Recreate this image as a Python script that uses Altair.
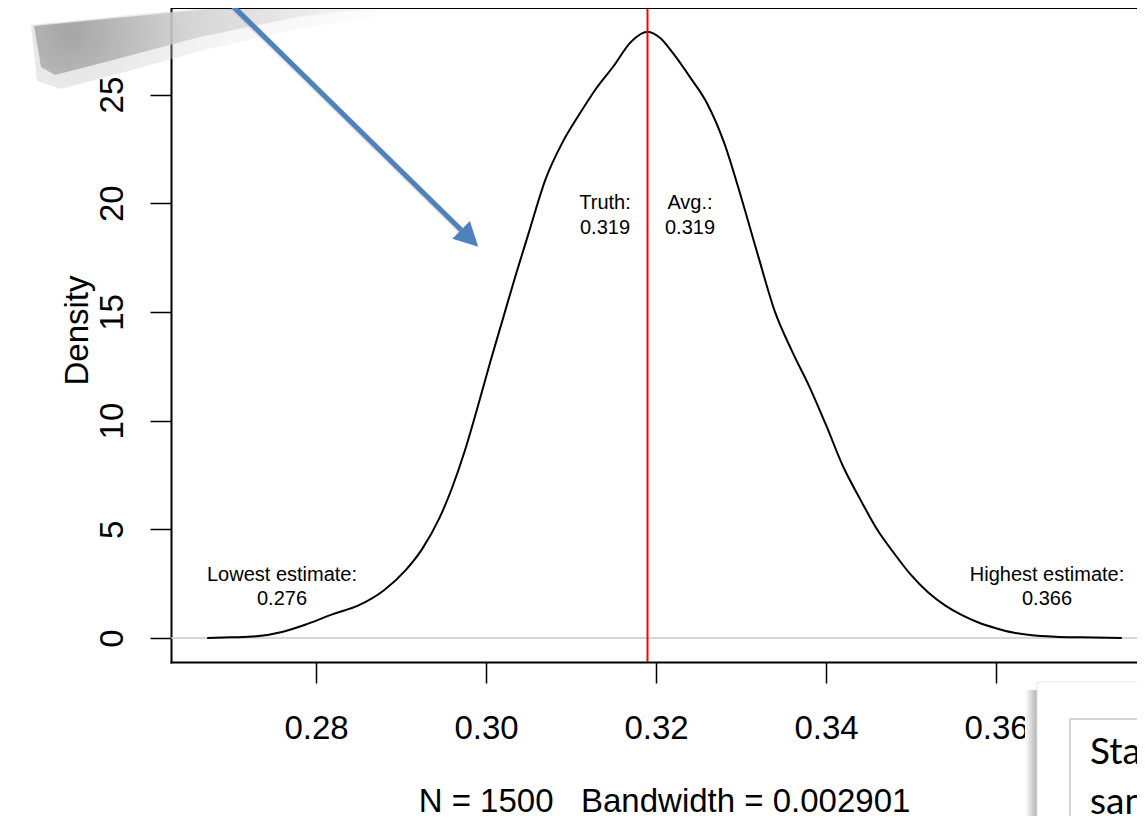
import altair as alt
import pandas as pd

# ---- data ----
density_x = [0.2672, 0.2700, 0.2730, 0.2760, 0.2790, 0.2820, 0.2850, 0.2880, 0.2905, 0.2925,
             0.2945, 0.2960, 0.2975, 0.2990, 0.3005, 0.3020, 0.3035, 0.3050, 0.3070, 0.3090,
             0.3110, 0.3130, 0.3150, 0.3170, 0.3190, 0.3205, 0.3220, 0.3240, 0.3260, 0.3280,
             0.3300, 0.3320, 0.3340, 0.3360, 0.3380, 0.3400, 0.3420, 0.3440, 0.3460, 0.3480,
             0.3500, 0.3520, 0.3540, 0.3560, 0.3580, 0.3600, 0.3620, 0.3640, 0.3670, 0.3700,
             0.3748]
density_y = [0.0, 0.03, 0.08, 0.28, 0.65, 1.1, 1.5, 2.2, 3.1, 4.1,
             5.5, 6.9, 8.6, 10.6, 12.7, 14.7, 16.7, 18.6, 21.1, 22.8,
             24.1, 25.3, 26.3, 27.4, 27.89, 27.6, 26.9, 25.8, 24.6, 22.8,
             20.3, 17.6, 15.0, 13.2, 11.6, 9.8, 7.9, 6.4, 5.0, 3.9,
             2.9, 2.1, 1.5, 1.05, 0.7, 0.45, 0.25, 0.14, 0.06, 0.03,
             0.0]

x_ticks = [0.28, 0.30, 0.32, 0.34, 0.36]
y_ticks = [0, 5, 10, 15, 20, 25]
x_domain = [0.262941, 0.376588]
y_domain = [-1.104, 28.98]

truth_value = 0.319
x_title = "N = 1500\u00a0\u00a0 Bandwidth = 0.002901"
y_title = "Density"

ann_text = ["Truth:\n0.319", "Avg.:\n0.319", "Lowest estimate:\n0.276", "Highest estimate:\n0.366"]
ann_x = [0.314, 0.324, 0.276, 0.366]
ann_y = [20.0, 20.0, 2.9, 2.9]

# decoration anchors (in data units)
arrow_x = [0.269482, 0.297082]
arrow_y = [29.35, 18.77]
arrowhead_x = [0.298082]
arrowhead_y = [18.39]
callout_text = ["Sta\nsan"]

FONT = "Liberation Sans"
BLUE = "#4F81BD"

base_x = alt.Scale(domain=x_domain, nice=False, zero=False)
base_y = alt.Scale(domain=y_domain, nice=False, zero=False)

dens = pd.DataFrame({"x": density_x, "y": density_y})

line = alt.Chart(dens).mark_line(color="black", strokeWidth=2, interpolate="monotone").encode(
    x=alt.X("x:Q", scale=base_x, axis=alt.Axis(
        values=x_ticks, format=".2f", grid=False, labelFontSize=33, labelFont=FONT,
        labelColor="black", tickColor="black", tickSize=21, tickWidth=1.5,
        domainColor="black", domainWidth=2, domainCap="square", labelPadding=55,
        labelBaseline="alphabetic", labelOverlap=False, labelFlush=False, labelBound=False,
        title=x_title, titleFont=FONT, titleFontSize=33, titleFontWeight="normal",
        titleColor="black", titleX=493, titleY=149, titleAlign="center",
        titleBaseline="alphabetic", titleAnchor="start")),
    y=alt.Y("y:Q", scale=base_y, axis=alt.Axis(
        values=y_ticks, grid=False, labelFontSize=33, labelFont=FONT, labelColor="black",
        tickColor="black", tickSize=21, tickWidth=1.5, domainColor="black", domainWidth=2,
        domainCap="square", labelAngle=270, labelAlign="center", labelBaseline="alphabetic",
        labelPadding=28, labelOverlap=False, labelFlush=False, labelBound=False,
        title=y_title, titleFont=FONT, titleFontSize=33, titleFontWeight="normal",
        titleColor="black", titleAngle=270, titleX=-84, titleY=322, titleAlign="center",
        titleBaseline="alphabetic", titleAnchor="start")),
)

zero_line = alt.Chart(pd.DataFrame({"x": [x_domain[0]], "x2": [x_domain[1]], "y": [0]})).mark_rule(
    color="#c8c8c8", strokeWidth=1.5).encode(
    x=alt.X("x:Q", scale=base_x), x2="x2:Q", y=alt.Y("y:Q", scale=base_y))

top_frame = alt.Chart(pd.DataFrame({"x": [x_domain[0]], "x2": [x_domain[1]], "y": [y_domain[1]]})).mark_rule(
    color="black", strokeWidth=2).encode(
    x=alt.X("x:Q", scale=base_x), x2="x2:Q", y=alt.Y("y:Q", scale=base_y))

red_line = alt.Chart(pd.DataFrame({"x": [truth_value], "y": [y_domain[0]], "y2": [y_domain[1]]})).mark_rule(
    color="#ff0000", strokeWidth=2).encode(
    x=alt.X("x:Q", scale=base_x), y=alt.Y("y:Q", scale=base_y), y2="y2:Q")

ann_df = pd.DataFrame({"x": ann_x, "y": ann_y, "t": ann_text})
annotations = alt.Chart(ann_df).mark_text(
    font=FONT, fontSize=20, color="black", align="center", baseline="middle",
    lineBreak="\n", lineHeight=24.5).encode(
    x=alt.X("x:Q", scale=base_x), y=alt.Y("y:Q", scale=base_y), text="t:N")

# ---- decorations: soft paper shadow (top-left) ----
shadow_anchor = pd.DataFrame({"x": [0.246706], "y": [28.197]})
shadow_outer = alt.Chart(shadow_anchor).mark_point(
    shape="M -2 0 L 267 -27 L 360 -35 L 370 -12 L 275 2 L 175 24 L 88 48 L 28 64 L 4 56 Z",
    size=4, filled=True, opacity=0.35, strokeWidth=0,
    fill=alt.RadialGradient(gradient="radial", x1=0.1, y1=0.5, r1=0.0, x2=0.1, y2=0.5, r2=1.0,
                            stops=[alt.GradientStop(color="#b0b0b0", offset=0),
                                   alt.GradientStop(color="#e6e6e6", offset=0.45),
                                   alt.GradientStop(color="#ffffff", offset=1)])).encode(
    x=alt.X("x:Q", scale=base_x), y=alt.Y("y:Q", scale=base_y))
shadow_inner = alt.Chart(shadow_anchor).mark_point(
    shape="M 1 1 L 267 -25 L 350 -33 L 355 -18 L 265 -8 L 167 12 L 80 35 L 22 50 L 8 42 Z",
    size=4, filled=True, opacity=0.85, strokeWidth=0,
    fill=alt.RadialGradient(gradient="radial", x1=0.1, y1=0.5, r1=0.0, x2=0.1, y2=0.5, r2=0.95,
                            stops=[alt.GradientStop(color="#9a9a9a", offset=0),
                                   alt.GradientStop(color="#cfcfcf", offset=0.35),
                                   alt.GradientStop(color="#ffffff", offset=1)])).encode(
    x=alt.X("x:Q", scale=base_x), y=alt.Y("y:Q", scale=base_y))

# ---- arrow ----
arrow_shadow = alt.Chart(pd.DataFrame({"x": [arrow_x[0] + 0.00025], "y": [arrow_y[0] - 0.13],
                                       "x2": [arrow_x[1] + 0.00025], "y2": [arrow_y[1] - 0.13]})).mark_rule(
    color="#000000", opacity=0.10, strokeWidth=7).encode(
    x=alt.X("x:Q", scale=base_x), y=alt.Y("y:Q", scale=base_y), x2="x2:Q", y2="y2:Q")

arrow_shaft = alt.Chart(pd.DataFrame({"x": [arrow_x[0]], "y": [arrow_y[0]],
                                      "x2": [arrow_x[1]], "y2": [arrow_y[1]]})).mark_rule(
    color=BLUE, strokeWidth=5).encode(
    x=alt.X("x:Q", scale=base_x), y=alt.Y("y:Q", scale=base_y), x2="x2:Q", y2="y2:Q")

arrow_head = alt.Chart(pd.DataFrame({"x": arrowhead_x, "y": arrowhead_y})).mark_point(
    shape="M -1 -1.04 L 1 0 L -1 1.04 Z", size=576, angle=44.5, filled=True,
    fill=BLUE, opacity=1, strokeWidth=0).encode(
    x=alt.X("x:Q", scale=base_x), y=alt.Y("y:Q", scale=base_y))

# ---- bottom-right callout ----
callout_shadow = alt.Chart(pd.DataFrame({"x": [0.363412], "x2": [0.364824], "y": [-2.39], "y2": [-9.0]})).mark_rect(
    fill=alt.LinearGradient(gradient="linear", x1=0, y1=0, x2=1, y2=0,
                            stops=[alt.GradientStop(color="#ffffff", offset=0),
                                   alt.GradientStop(color="#b4b4b4", offset=1)])).encode(
    x=alt.X("x:Q", scale=base_x), x2="x2:Q", y=alt.Y("y:Q", scale=base_y), y2="y2:Q")

callout_paper = alt.Chart(pd.DataFrame({"x": [0.364824], "x2": [0.3800], "y": [-2.024], "y2": [-9.0]})).mark_rect(
    fill="white", stroke="#e4e4e4", strokeWidth=1).encode(
    x=alt.X("x:Q", scale=base_x), x2="x2:Q", y=alt.Y("y:Q", scale=base_y), y2="y2:Q")

callout_box = alt.Chart(pd.DataFrame({"x": [0.368706], "x2": [0.3800], "y": [-3.726], "y2": [-9.0]})).mark_rect(
    fill="white", stroke="#c8c8c8", strokeWidth=1.5).encode(
    x=alt.X("x:Q", scale=base_x), x2="x2:Q", y=alt.Y("y:Q", scale=base_y), y2="y2:Q")

callout_label = alt.Chart(pd.DataFrame({"x": [0.371059], "y": [-5.796], "t": callout_text})).mark_text(
    font="Lato", fontSize=37, color="black", align="left", baseline="alphabetic",
    lineBreak="\n", lineHeight=50).encode(
    x=alt.X("x:Q", scale=base_x), y=alt.Y("y:Q", scale=base_y), text="t:N")

chart = alt.layer(
    shadow_outer, shadow_inner, zero_line, line, red_line, annotations, top_frame,
    arrow_shadow, arrow_shaft, arrow_head,
    callout_shadow, callout_paper, callout_box, callout_label,
).properties(
    width=966, height=654,
    autosize=alt.AutoSizeParams(type="none"),
    padding={"left": 163, "top": 0, "right": 0, "bottom": 154},
).configure_view(stroke=None).configure(background="white")

chart.save("out.html", embed_options={"renderer": "svg", "actions": False})
